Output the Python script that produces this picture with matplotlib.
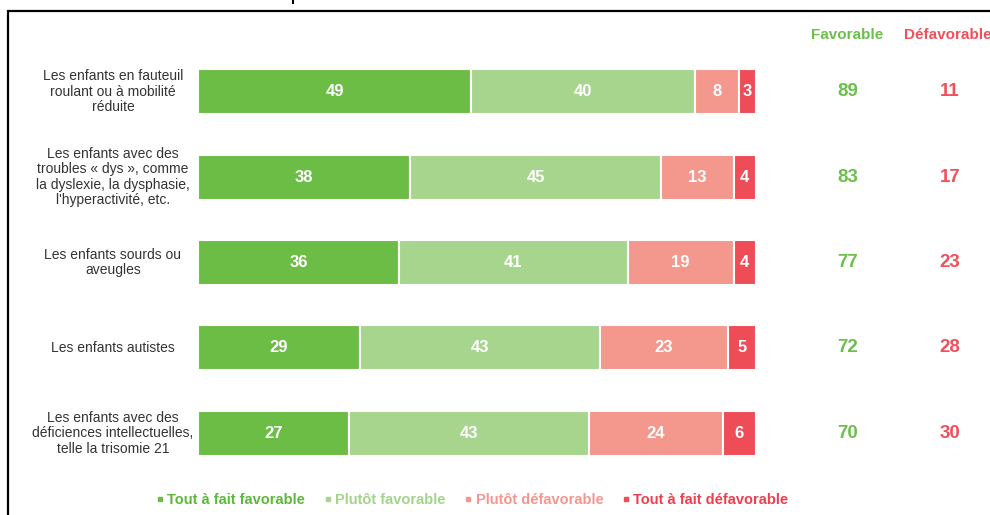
import matplotlib
matplotlib.use("Agg")
import matplotlib.pyplot as plt
from matplotlib.patches import Rectangle
from matplotlib.lines import Line2D

plt.rcParams['font.family'] = ['Liberation Sans', 'DejaVu Sans']

categories = [
    "Les enfants en fauteuil\nroulant ou à mobilité\nréduite",
    "Les enfants avec des\ntroubles « dys », comme\nla dyslexie, la dysphasie,\nl'hyperactivité, etc.",
    "Les enfants sourds ou\naveugles",
    "Les enfants autistes",
    "Les enfants avec des\ndéficiences intellectuelles,\ntelle la trisomie 21",
]
tout_fav = [49, 38, 36, 29, 27]
plutot_fav = [40, 45, 41, 43, 43]
plutot_defav = [8, 13, 19, 23, 24]
tout_defav = [3, 4, 4, 5, 6]
favorable = [89, 83, 77, 72, 70]
defavorable = [11, 17, 23, 28, 30]
series_names = ["Tout à fait favorable", "Plutôt favorable", "Plutôt défavorable", "Tout à fait défavorable"]

colors = ["#6cbd45", "#a8d58e", "#f4978d", "#ee4c57"]
text_colors = ["#5cb83a", "#a3d48a", "#f4968e", "#ee3f4f"]
green_txt = "#6cbf4a"
red_txt = "#f0505a"

W, H = 990, 515
fig = plt.figure(figsize=(W/100, H/100), dpi=100)

# frame
fig.patches.append(Rectangle((8/W, -0.05), 1.2, 1.05 - 11/H, transform=fig.transFigure,
                             fill=False, edgecolor="black", linewidth=1.6))
# cut-off mark at top
fig.add_artist(Line2D([293/W, 293/W], [1 - 3/H, 1.0], transform=fig.transFigure,
                      color="black", linewidth=1.5))

ax_left, ax_right = 198, 756
y_top, y_bot = 50, 475
ax = fig.add_axes([ax_left/W, (H-y_bot)/H, (ax_right-ax_left)/W, (y_bot-y_top)/H])
ax.set_xlim(0, 100)
ax.set_ylim(4.49, -0.49)
ax.axis("off")

series = [tout_fav, plutot_fav, plutot_defav, tout_defav]
n = len(categories)
ys = list(range(n))
left = [0]*n
for s, vals in enumerate(series):
    ax.barh(ys, vals, left=left, height=0.53, color=colors[s], edgecolor="white", linewidth=1.5)
    for i in range(n):
        ax.text(left[i] + vals[i]/2, ys[i], str(vals[i]), ha="center", va="center",
                color="white", fontsize=12, fontweight="bold")
    left = [l + v for l, v in zip(left, vals)]

px = 100/(ax_right-ax_left)
x_fav = (848-ax_left)*px
x_def = (950-ax_left)*px
x_lab = (113-ax_left)*px
for i in range(n):
    ax.text(x_fav, ys[i], str(favorable[i]), ha="center", va="center", color=green_txt,
            fontsize=13.5, fontweight="bold", clip_on=False)
    ax.text(x_def, ys[i], str(defavorable[i]), ha="center", va="center", color=red_txt,
            fontsize=13.5, fontweight="bold", clip_on=False)
    ax.text(x_lab, ys[i], categories[i], ha="center", va="center", color="#333333",
            fontsize=10, linespacing=1.12, clip_on=False)

fig.text(847/W, 1-35/H, "Favorable", ha="center", va="center", color=green_txt,
         fontsize=11, fontweight="bold")
fig.text(948/W, 1-35/H, "Défavorable", ha="center", va="center", color=red_txt,
         fontsize=11, fontweight="bold")

handles = [Line2D([], [], marker="s", linestyle="none", markersize=3.5,
                  markerfacecolor=colors[s], markeredgecolor=colors[s]) for s in range(4)]
leg = fig.legend(handles, series_names, loc="center", bbox_to_anchor=(471/W, 1-500/H),
                 ncol=4, frameon=False, handletextpad=0.05, columnspacing=1.1,
                 handlelength=0.9, prop={"size": 10.5, "weight": "bold"})
for t, c in zip(leg.get_texts(), text_colors):
    t.set_color(c)

fig.savefig("out.png", dpi=100)
